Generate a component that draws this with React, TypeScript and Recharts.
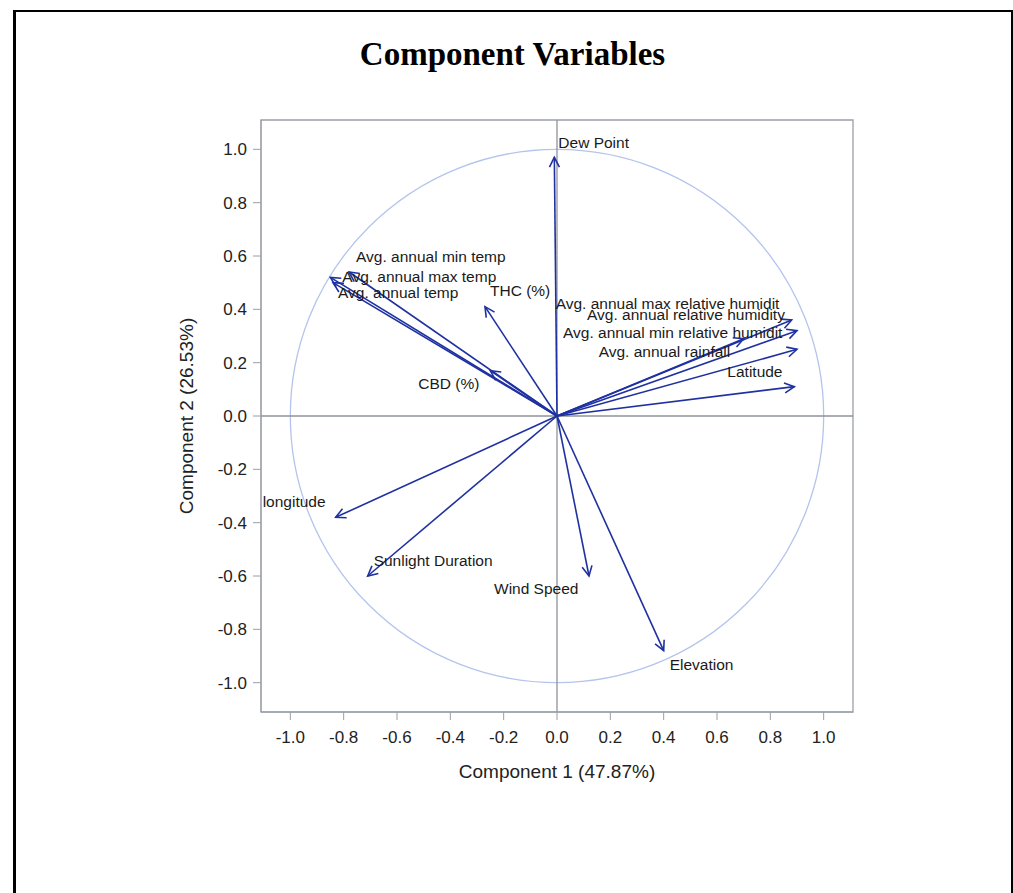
import React from 'react';
import {
  ScatterChart,
  Scatter,
  XAxis,
  YAxis,
  ReferenceLine,
  ReferenceArea,
} from 'recharts';

// loadings
const VARIABLES = [
  'Dew Point',
  'Avg. annual min temp',
  'Avg. annual max temp',
  'Avg. annual temp',
  'THC (%)',
  'CBD (%)',
  'Avg. annual max relative humidit',
  'Avg. annual relative humidity',
  'Avg. annual min relative humidit',
  'Avg. annual rainfall',
  'Latitude',
  'longitude',
  'Sunlight Duration',
  'Wind Speed',
  'Elevation',
];
const COMPONENT_1 = [-0.01, -0.78, -0.85, -0.84, -0.27, -0.25, 0.88, 0.9, 0.9, 0.7, 0.89, -0.83, -0.71, 0.12, 0.4];
const COMPONENT_2 = [0.97, 0.54, 0.52, 0.5, 0.41, 0.17, 0.36, 0.32, 0.25, 0.29, 0.11, -0.38, -0.6, -0.6, -0.88];
const TICKS = [-1.0, -0.8, -0.6, -0.4, -0.2, 0.0, 0.2, 0.4, 0.6, 0.8, 1.0];

// where each label starts, in px from its arrow tip
const LABEL_OFFSETS = [
  [4, -9], [7, -10], [12, 5], [5, 15], [5, -11], [-72, 18],
  [-236, -11], [-210, -11], [-234, -11], [-145, 18], [-67, -10],
  [-73, -10], [6, -10], [-95, 18], [6, 19],
];

const DOMAIN: [number, number] = [-1.11, 1.11];
const SANS = '"Liberation Sans", Arial, sans-serif';
const ARROW = '#1f31a0';
const FRAME = '#9a9fa6';

const points = VARIABLES.map((name, i) => ({ name, x: COMPONENT_1[i], y: COMPONENT_2[i] }));

const makeArrow = (i: number) => (props: any) => {
  const { x1, y1, x2, y2 } = props;
  const ang = Math.atan2(y2 - y1, x2 - x1);
  const len = 11;
  const spread = 0.47;
  const ax = x2 - len * Math.cos(ang - spread);
  const ay = y2 - len * Math.sin(ang - spread);
  const bx = x2 - len * Math.cos(ang + spread);
  const by = y2 - len * Math.sin(ang + spread);
  const [dx, dy] = LABEL_OFFSETS[i];
  return (
    <g>
      <line x1={x1} y1={y1} x2={x2} y2={y2} stroke={ARROW} strokeWidth={1.6} />
      <polyline
        points={`${ax},${ay} ${x2},${y2} ${bx},${by}`}
        fill="none"
        stroke={ARROW}
        strokeWidth={1.6}
      />
      <text x={x2 + dx} y={y2 + dy} fontFamily={SANS} fontSize={15.5} fill="#1a1a1a">
        {VARIABLES[i]}
      </text>
    </g>
  );
};

const unitCircle = (props: any) => {
  const { x, y, width, height } = props;
  return (
    <ellipse
      cx={x + width / 2}
      cy={y + height / 2}
      rx={Math.abs(width) / 2}
      ry={Math.abs(height) / 2}
      fill="none"
      stroke="#b4c4ec"
      strokeWidth={1.3}
    />
  );
};

const App: React.FC = () => {
  return (
    <div style={{ position: 'fixed', inset: 0, overflow: 'hidden', background: '#fff' }}>
      <div
        style={{
          position: 'absolute',
          left: 13,
          top: 10,
          width: 1000,
          height: 900,
          boxSizing: 'border-box',
          borderTop: '2px solid #000',
          borderLeft: '3px solid #000',
          borderRight: '2px solid #000',
        }}
      />
      <div
        style={{
          position: 'absolute',
          left: 0,
          top: 38,
          width: 1025,
          textAlign: 'center',
          fontFamily: '"Liberation Serif", "Times New Roman", serif',
          fontWeight: 'bold',
          fontSize: 33,
          lineHeight: '33px',
          color: '#000',
        }}
      >
        Component Variables
      </div>
      <div style={{ position: 'absolute', left: 0, top: 0 }}>
        <ScatterChart
          width={1013}
          height={893}
          margin={{ top: 120, right: 160, bottom: 121, left: 201 }}
        >
          <XAxis
            type="number"
            dataKey="x"
            domain={DOMAIN}
            ticks={TICKS}
            tickFormatter={(v: number) => v.toFixed(1)}
            height={60}
            tickSize={8}
            tickMargin={11}
            stroke={FRAME}
            tick={{ fill: '#222', fontSize: 17, fontFamily: SANS }}
            label={{
              content: (p: any) => {
                const vb = p.viewBox;
                return (
                  <text
                    x={vb.x + vb.width / 2}
                    y={vb.y + 66}
                    textAnchor="middle"
                    fontFamily={SANS}
                    fontSize={19}
                    fill="#222"
                  >
                    Component 1 (47.87%)
                  </text>
                );
              },
            }}
          />
          <YAxis
            type="number"
            dataKey="y"
            domain={DOMAIN}
            ticks={TICKS}
            tickFormatter={(v: number) => v.toFixed(1)}
            width={60}
            tickSize={8}
            tickMargin={6}
            stroke={FRAME}
            tick={{ fill: '#222', fontSize: 17, fontFamily: SANS }}
            label={{
              content: (p: any) => {
                const vb = p.viewBox;
                const cx = vb.x - 8;
                const cy = vb.y + vb.height / 2;
                return (
                  <text
                    x={cx}
                    y={cy}
                    transform={`rotate(-90, ${cx}, ${cy})`}
                    textAnchor="middle"
                    fontFamily={SANS}
                    fontSize={19}
                    fill="#222"
                  >
                    Component 2 (26.53%)
                  </text>
                );
              },
            }}
          />
          <ReferenceArea
            x1={DOMAIN[0]}
            x2={DOMAIN[1]}
            y1={DOMAIN[0]}
            y2={DOMAIN[1]}
            fill="none"
            fillOpacity={0}
            stroke={FRAME}
            strokeWidth={1.3}
            ifOverflow="visible"
          />
          <ReferenceArea x1={-1} x2={1} y1={-1} y2={1} shape={unitCircle} ifOverflow="visible" />
          <ReferenceLine x={0} stroke="#8e9399" strokeWidth={1.3} />
          <ReferenceLine y={0} stroke="#8e9399" strokeWidth={1.3} />
          {points.map((p, i) => (
            <ReferenceLine
              key={p.name}
              segment={[
                { x: 0, y: 0 },
                { x: p.x, y: p.y },
              ]}
              shape={makeArrow(i)}
              ifOverflow="visible"
            />
          ))}
          <Scatter data={points} isAnimationActive={false} shape={() => <g />} />
        </ScatterChart>
      </div>
    </div>
  );
};

export default App;
